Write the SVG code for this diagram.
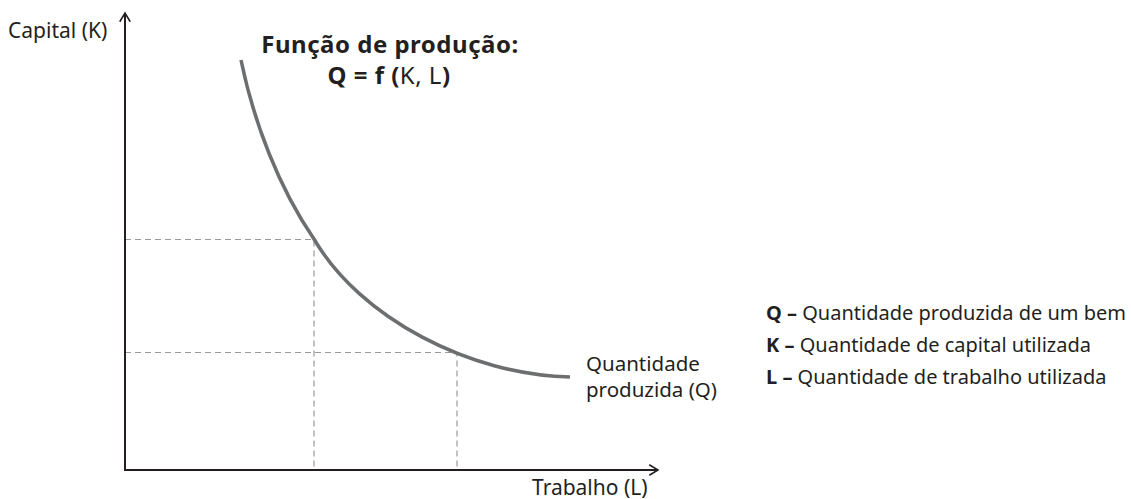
<svg xmlns="http://www.w3.org/2000/svg" width="1131" height="499" viewBox="0 0 1131 499">
<style>
text{font-family:"Noto Sans","Open Sans",sans-serif;fill:#231f20;font-size:20px}
.b{font-weight:bold}
.ax{font-size:21px}
.t{font-size:24px;letter-spacing:0.5px}
.axis{stroke:#231f20;stroke-width:2;fill:none}
.dash{stroke:#9a9a9a;stroke-width:1.2;stroke-dasharray:6 4;fill:none}
.curve{stroke:#6d6e70;stroke-width:3.5;fill:none}
</style>
<defs>
<marker id="arr" viewBox="0 0 12 16" refX="11" refY="7" markerWidth="12" markerHeight="14" markerUnits="userSpaceOnUse" orient="auto">
<path d="M1,1 L11,7 L1,13" fill="none" stroke="#231f20" stroke-width="1.8"/>
</marker>
</defs>
<g id="connectors">
<path class="dash" d="M125,239.5 H314 V470"/>
<path class="dash" d="M125,352.5 H457 V470"/>
<path class="axis" d="M125,470 V13" marker-end="url(#arr)"/>
<path class="axis" d="M124,470 H658" marker-end="url(#arr)"/>
<path class="curve" d="M241,60 C254,123 279,188 314,239 C360,318 470,375 570,377"/>
</g>
<g id="y-label"><text class="ax" x="8" y="38">Capital (K)</text></g>
<g id="x-label"><text class="ax" x="532" y="495">Trabalho (L)</text></g>
<g id="title">
<text class="b t" x="390" y="53" text-anchor="middle">Função de produção:</text>
<text class="t" x="389" y="84" text-anchor="middle"><tspan class="b">Q = f (</tspan>K, L<tspan class="b">)</tspan></text>
</g>
<g id="curve-label">
<text x="586" y="371" style="font-size:20.5px">Quantidade</text>
<text x="586" y="397" style="font-size:20.5px">produzida (Q)</text>
</g>
<g id="legend">
<text x="766" y="320"><tspan class="b">Q –</tspan> Quantidade produzida de um bem</text>
<text x="766" y="352"><tspan class="b">K –</tspan> Quantidade de capital utilizada</text>
<text x="766" y="384"><tspan class="b">L –</tspan> Quantidade de trabalho utilizada</text>
</g>
</svg>
